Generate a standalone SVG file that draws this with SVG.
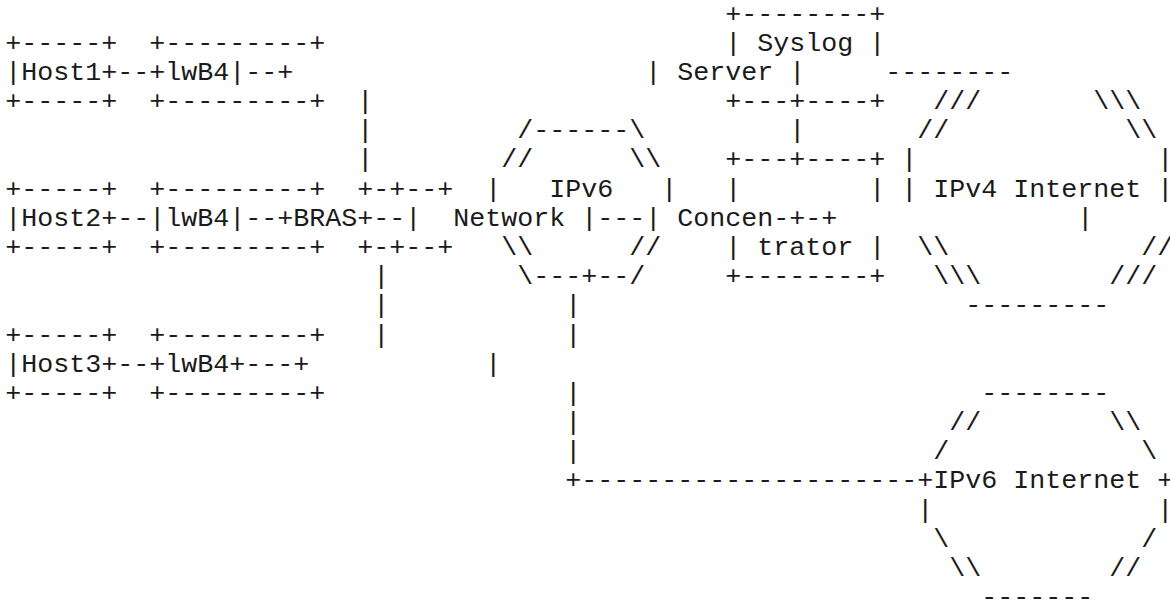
<svg xmlns="http://www.w3.org/2000/svg" width="1170" height="605" viewBox="0 0 1170 605" xml:space="preserve">
  <style>
    text { font-family: "Liberation Mono", "Courier New", monospace; font-size: 26.667px; fill: #1a1a1a; white-space: pre; }
  </style>
  <rect width="1170" height="605" fill="#ffffff"/>
  <!-- character grid: column pitch 16px, row pitch 29.18px -->
  <g transform="translate(5.3,21.6)">
    <g id="host1">
      <text x="0" y="29.18">+-----+</text>
      <text x="0" y="58.36">|Host1+</text>
      <text x="0" y="87.54">+-----+</text>
    </g>
    <g id="lwb4-1">
      <text x="144" y="29.18">+---------+</text>
      <text x="144" y="58.36">+lwB4|</text>
      <text x="144" y="87.54">+---------+</text>
    </g>
    <g id="host2">
      <text x="0" y="175.08">+-----+</text>
      <text x="0" y="204.26">|Host2+</text>
      <text x="0" y="233.44">+-----+</text>
    </g>
    <g id="lwb4-2">
      <text x="144" y="175.08">+---------+</text>
      <text x="144" y="204.26">|lwB4|</text>
      <text x="144" y="233.44">+---------+</text>
    </g>
    <g id="host3">
      <text x="0" y="320.98">+-----+</text>
      <text x="0" y="350.16">|Host3+</text>
      <text x="0" y="379.34">+-----+</text>
    </g>
    <g id="lwb4-3">
      <text x="144" y="320.98">+---------+</text>
      <text x="144" y="350.16">+lwB4+</text>
      <text x="144" y="379.34">+---------+</text>
    </g>
    <g id="bras">
      <text x="352" y="175.08">+-+--+</text>
      <text x="272" y="204.26">+BRAS+</text>
      <text x="352" y="233.44">+-+--+</text>
    </g>
    <g id="ipv6-network">
      <text x="512" y="116.72">/------\</text>
      <text x="496" y="145.9">//</text>
      <text x="624" y="145.9">\\</text>
      <text x="480" y="175.08">|</text>
      <text x="544" y="175.08">IPv6</text>
      <text x="656" y="175.08">|</text>
      <text x="400" y="204.26">|  Network |</text>
      <text x="496" y="233.44">\\</text>
      <text x="624" y="233.44">//</text>
      <text x="512" y="262.62">\---+--/</text>
    </g>
    <g id="syslog-server">
      <text x="720" y="0">+--------+</text>
      <text x="720" y="29.18">| Syslog |</text>
      <text x="640" y="58.36">| Server |</text>
      <text x="720" y="87.54">+---+----+</text>
    </g>
    <g id="concentrator">
      <text x="720" y="145.9">+---+----+</text>
      <text x="720" y="175.08">|</text>
      <text x="864" y="175.08">|</text>
      <text x="640" y="204.26">| Concen-+-+</text>
      <text x="720" y="233.44">| trator |</text>
      <text x="720" y="262.62">+--------+</text>
    </g>
    <g id="ipv4-internet">
      <text x="880" y="58.36">--------</text>
      <text x="928" y="87.54">///</text>
      <text x="1088" y="87.54">\\\</text>
      <text x="912" y="116.72">//</text>
      <text x="1120" y="116.72">\\</text>
      <text x="896" y="145.9">|</text>
      <text x="1152" y="145.9">|</text>
      <text x="896" y="175.08">| IPv4 Internet |</text>
      <text x="1072" y="204.26">|</text>
      <text x="912" y="233.44">\\</text>
      <text x="1136" y="233.44">//</text>
      <text x="928" y="262.62">\\\</text>
      <text x="1104" y="262.62">///</text>
      <text x="960" y="291.8">---------</text>
    </g>
    <g id="ipv6-internet">
      <text x="976" y="379.34">--------</text>
      <text x="944" y="408.52">//</text>
      <text x="1104" y="408.52">\\</text>
      <text x="928" y="437.7">/</text>
      <text x="1136" y="437.7">\</text>
      <text x="912" y="466.88">+IPv6 Internet +</text>
      <text x="912" y="496.06">|</text>
      <text x="1152" y="496.06">|</text>
      <text x="928" y="525.24">\</text>
      <text x="1136" y="525.24">/</text>
      <text x="944" y="554.42">\\</text>
      <text x="1104" y="554.42">//</text>
      <text x="976" y="583.6">-------</text>
    </g>
    <g id="connectors">
      <!-- host / lwB4 / BRAS links -->
      <text x="112" y="58.36">--</text>
      <text x="240" y="58.36">--+</text>
      <text x="352" y="87.54">|</text>
      <text x="352" y="116.72">|</text>
      <text x="352" y="145.9">|</text>
      <text x="112" y="204.26">--</text>
      <text x="240" y="204.26">--</text>
      <text x="368" y="204.26">--</text>
      <text x="368" y="262.62">|</text>
      <text x="368" y="291.8">|</text>
      <text x="368" y="320.98">|</text>
      <text x="112" y="350.16">--</text>
      <text x="240" y="350.16">---+</text>
      <text x="480" y="350.16">|</text>
      <!-- network to concentrator, syslog to concentrator -->
      <text x="592" y="204.26">---</text>
      <text x="784" y="116.72">|</text>
      <!-- network down to IPv6 Internet -->
      <text x="560" y="291.8">|</text>
      <text x="560" y="320.98">|</text>
      <text x="560" y="379.34">|</text>
      <text x="560" y="408.52">|</text>
      <text x="560" y="437.7">|</text>
      <text x="560" y="466.88">+---------------------</text>
    </g>
  </g>
</svg>
